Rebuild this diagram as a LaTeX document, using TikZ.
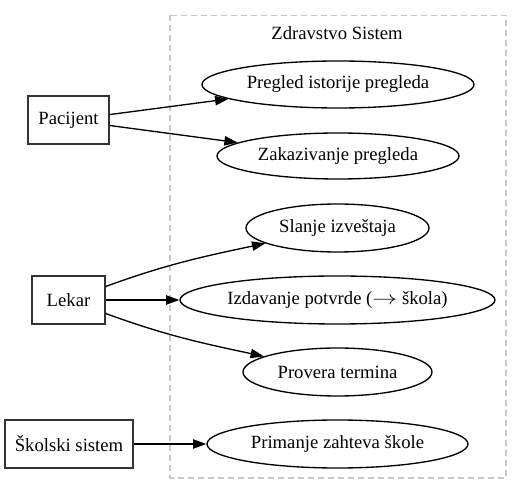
\documentclass[tikz,border=0pt]{standalone}
\usepackage{fontspec}
\setmainfont{Liberation Serif}
\usetikzlibrary{arrows.meta,shapes.geometric}
\begin{document}
\begin{tikzpicture}[x=0.75pt,y=-0.75pt,
  font=\fontsize{14pt}{16pt}\selectfont,
  actor/.style={draw=black!80,line width=1pt,rectangle,inner sep=0pt,minimum height=36pt},
  usecase/.style={draw=black,line width=1pt,ellipse,inner sep=0pt},
  conn/.style={line width=1pt,-{Triangle[length=10pt,width=7pt]}},
  cluster/.style={draw=black!22,line width=1pt,dash pattern=on 4.5pt off 3pt}]
\useasboundingbox (0,0) rectangle (522,495);
\draw[cluster] (170,15.5) rectangle (506,478);
\node (title) at (337,33) {Zdravstvo Sistem};
\node[usecase,minimum width=204pt,minimum height=35.25pt] (u1) at (338,84.5) {Pregled istorije pregleda};
\node[usecase,minimum width=181.5pt,minimum height=34.5pt] (u2) at (338,156) {Zakazivanje pregleda};
\node[usecase,minimum width=137.25pt,minimum height=36pt] (u3) at (337.5,228) {Slanje izveštaja};
\node[usecase,minimum width=236.25pt,minimum height=36pt] (u4) at (337.5,300) {Izdavanje potvrde (\scalebox{1.3}[1]{$\rightarrow$} škola)};
\node[usecase,minimum width=141.75pt,minimum height=36pt] (u5) at (337.5,372) {Provera termina};
\node[usecase,minimum width=195.75pt,minimum height=36pt] (u6) at (337.5,444) {Primanje zahteva škole};
\node[actor,minimum width=60.75pt] (p) at (68.5,120) {Pacijent};
\node[actor,minimum width=54.75pt] (l) at (68.5,300) {Lekar};
\node[actor,minimum width=96pt] (s) at (69,444) {Školski sistem};
\draw[conn] (p) -- (u1);
\draw[conn] (p) -- (u2);
\draw[conn] (l) to[out=20,in=192] (u3);
\draw[conn] (l) -- (u4);
\draw[conn] (l) to[out=-20,in=168] (u5);
\draw[conn] (s) -- (u6);
\end{tikzpicture}
\end{document}
